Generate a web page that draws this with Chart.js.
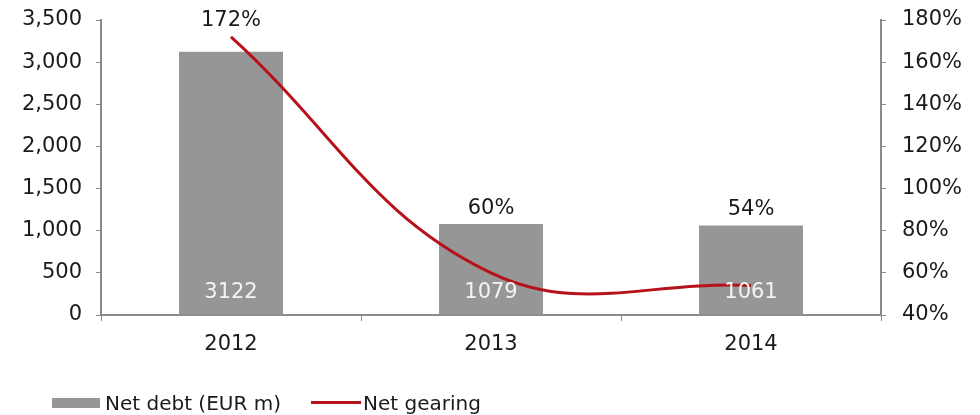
<!DOCTYPE html>
<html>
<head>
<meta charset="utf-8">
<script src="https://cdn.jsdelivr.net/npm/chart.js@4"></script>
<style>
  body { margin: 0; background: #fff; }
  #wrap { position: relative; width: 980px; height: 415px; }
  #legend { position: absolute; left: 52px; top: 389px; font: 20px Verdana, "DejaVu Sans", sans-serif; color: #1a1a1a; white-space: nowrap; }
  #legend span { display: inline-block; vertical-align: middle; }
  .item { display: inline-block; margin-right: 30px; }
</style>
</head>
<body>
<div id="wrap">
  <canvas id="chart" width="980" height="415"></canvas>
  <div id="legend"></div>
</div>
<script>
// data
var years = ["2012", "2013", "2014"];
var netDebt = [3122, 1079, 1061];
var netGearing = [172, 60, 54];
var debtTicks = [0, 500, 1000, 1500, 2000, 2500, 3000, 3500];
var gearingTicks = [40, 60, 80, 100, 120, 140, 160, 180];

var barColor = "#969696";
var lineColor = "#b5121b";
var axisColor = "#8a8a8a";

Chart.defaults.font.family = "Verdana, 'DejaVu Sans', sans-serif";
Chart.defaults.font.size = 21;
Chart.defaults.color = "#1a1a1a";

// labels: white debt values inside bars, gearing % above
var valueLabels = {
  id: "valueLabels",
  afterDatasetsDraw: function (chart) {
    var ctx = chart.ctx;
    var bars = chart.getDatasetMeta(0).data;
    var pts = chart.getDatasetMeta(1).data;
    var bottom = chart.scales.y.bottom;
    ctx.save();
    ctx.font = "21px Verdana, 'DejaVu Sans', sans-serif";
    ctx.textAlign = "center";
    ctx.textBaseline = "middle";
    for (var i = 0; i < bars.length; i++) {
      ctx.fillStyle = "#f4f4f4";
      ctx.fillText(netDebt[i], bars[i].x, bottom - 22);
      var top = Math.min(bars[i].y, pts[i].y);
      ctx.fillStyle = "#1a1a1a";
      ctx.fillText(netGearing[i] + "%", bars[i].x, top - 16);
    }
    ctx.restore();
  }
};

// fixed plot box: 101..881 x 20..315
function fitY(width) {
  return function (s) {
    s.width = width;
    s.paddingTop = 20;
    s.paddingBottom = 0;
  };
}

var chart = new Chart(document.getElementById("chart"), {
  data: {
    labels: years,
    datasets: [
      {
        type: "line",
        label: "Net gearing",
        data: netGearing,
        yAxisID: "y2",
        borderColor: lineColor,
        borderWidth: 3,
        pointRadius: 0,
        tension: 0.4,
        fill: false,
        order: 0
      },
      {
        type: "bar",
        label: "Net debt (EUR m)",
        data: netDebt,
        yAxisID: "y",
        backgroundColor: barColor,
        barPercentage: 0.4,
        categoryPercentage: 1,
        order: 1
      }
    ]
  },
  plugins: [valueLabels],
  options: {
    responsive: false,
    animation: false,
    layout: { padding: 0 },
    plugins: {
      legend: { display: false },
      tooltip: { enabled: false }
    },
    scales: {
      x: {
        offset: true,
        grid: { offset: true, drawOnChartArea: false, drawTicks: true, tickLength: 6, color: axisColor },
        border: { color: axisColor, width: 2 },
        ticks: { padding: 11 },
        afterFit: function (s) { s.height = 100; s.paddingLeft = 0; s.paddingRight = 0; }
      },
      y: {
        position: "left",
        min: 0,
        max: 3500,
        afterBuildTicks: function (s) { s.ticks = debtTicks.map(function (v) { return { value: v }; }); },
        ticks: { padding: 14, callback: function (v) { return v.toLocaleString("en-US"); } },
        grid: { drawOnChartArea: false, drawTicks: true, tickLength: 5, color: axisColor },
        border: { color: axisColor, width: 2 },
        afterFit: fitY(101)
      },
      y2: {
        position: "right",
        min: 40,
        max: 180,
        afterBuildTicks: function (s) { s.ticks = gearingTicks.map(function (v) { return { value: v }; }); },
        ticks: { padding: 16, callback: function (v) { return v + "%"; } },
        grid: { drawOnChartArea: false, drawTicks: true, tickLength: 5, color: axisColor },
        border: { color: axisColor, width: 2 },
        afterFit: fitY(99)
      }
    }
  }
});

// legend in the order shown: bar first, then line
var legend = document.getElementById("legend");
var order = [1, 0];
order.forEach(function (i) {
  var ds = chart.data.datasets[i];
  var item = document.createElement("div");
  item.className = "item";
  var sw = document.createElement("span");
  if (ds.type === "bar") {
    sw.style.cssText = "width:48px;height:10px;background:" + ds.backgroundColor + ";margin-right:5px;";
  } else {
    sw.style.cssText = "width:50px;height:3px;background:" + ds.borderColor + ";margin-right:2px;";
  }
  var tx = document.createElement("span");
  tx.textContent = ds.label;
  item.appendChild(sw);
  item.appendChild(tx);
  legend.appendChild(item);
});
</script>
</body>
</html>
